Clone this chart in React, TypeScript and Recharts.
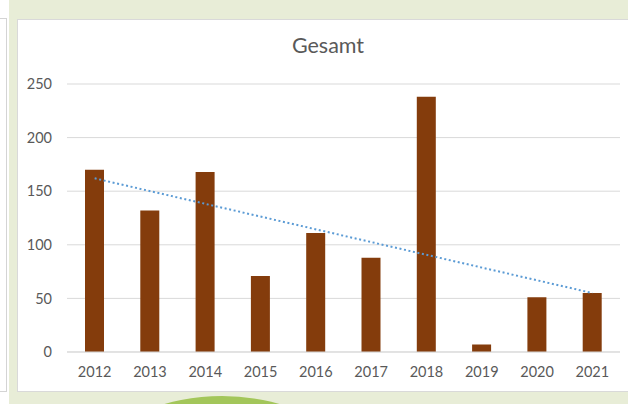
import React from 'react';
import { BarChart, Bar, XAxis, YAxis, CartesianGrid, ReferenceLine } from 'recharts';

const years = ['2012', '2013', '2014', '2015', '2016', '2017', '2018', '2019', '2020', '2021'];
const totals = [170, 132, 168, 71, 111, 88, 238, 7, 51, 55];
const yTicks = [0, 50, 100, 150, 200, 250];
const trendStartValue = 162;
const trendEndValue = 55;
const chartTitle = 'Gesamt';

const data = years.map((year, i) => ({ year, total: totals[i] }));

const FONT = 'Lato, "Noto Sans", sans-serif';
const TEXT = '#595959';

export default function App() {
  return (
    <div style={{ position: 'absolute', left: 0, top: 0, width: 628, height: 404, overflow: 'hidden', background: '#ffffff', fontFamily: FONT }}>
      {/* left neighbour panel */}
      <div style={{ position: 'absolute', left: -2, top: 18, width: 9, height: 374, border: '1px solid #d4d4d4', background: '#ffffff', boxSizing: 'border-box' }} />
      {/* green frame */}
      <div style={{ position: 'absolute', left: 9, top: 0, width: 619, height: 404, background: '#e8edd7' }} />
      {/* green circle */}
      <div style={{ position: 'absolute', left: 12, top: 396, width: 420, height: 420, borderRadius: '50%', background: '#a3c65a' }} />
      {/* white chart panel */}
      <div style={{ position: 'absolute', left: 17, top: 19, width: 620, height: 373, background: '#ffffff', border: '1px solid #d9d9d9', boxSizing: 'border-box' }} />
      <div style={{ position: 'absolute', left: 228, top: 32, width: 200, textAlign: 'center', fontSize: 21.5, color: TEXT, fontFamily: FONT }}>{chartTitle}</div>
      <div style={{ position: 'absolute', left: 0, top: 0 }}>
        <BarChart width={628} height={404} data={data} margin={{ top: 84, right: 8, bottom: 22, left: 0 }}>
          <CartesianGrid vertical={false} stroke="#d9d9d9" strokeWidth={1} />
          <XAxis
            dataKey="year"
            axisLine={{ stroke: '#d9d9d9' }}
            tickLine={false}
            tickMargin={9}
            height={30}
            tick={{ fill: TEXT, fontSize: 14.5, fontFamily: FONT }}
            interval={0}
          />
          <YAxis
            domain={[0, 250]}
            ticks={yTicks}
            width={67}
            axisLine={false}
            tickLine={false}
            tickMargin={9}
            tick={{ fill: TEXT, fontSize: 14.5, fontFamily: FONT }}
          />
          <Bar dataKey="total" fill="#843c0c" barSize={19} isAnimationActive={false} />
          <ReferenceLine
            segment={[{ x: years[0], y: trendStartValue }, { x: years[years.length - 1], y: trendEndValue }]}
            stroke="#5b9bd5"
            strokeWidth={2}
            strokeDasharray="2 2.6"
          />
        </BarChart>
      </div>
    </div>
  );
}
